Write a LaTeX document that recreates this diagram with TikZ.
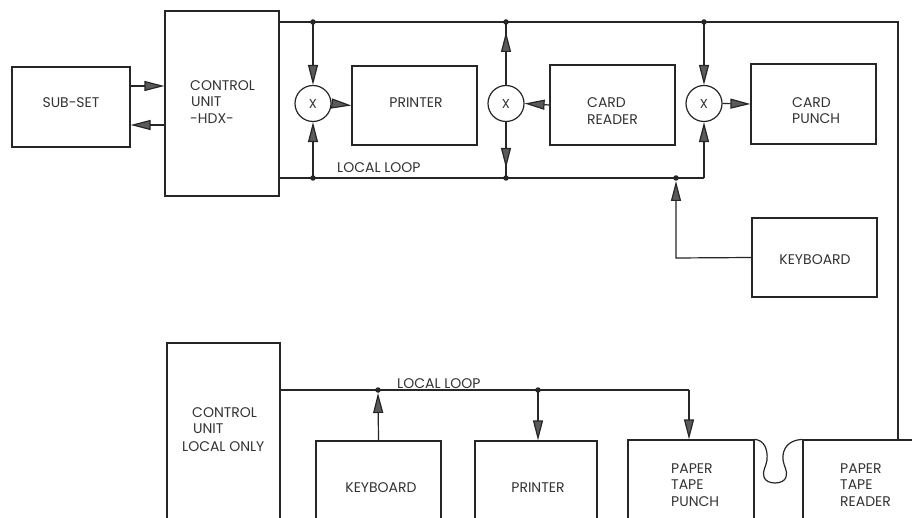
\documentclass[tikz,border=0pt]{standalone}
\usepackage{fontspec}
\setmainfont{Poppins}
\usetikzlibrary{arrows.meta,calc}
\definecolor{ink}{HTML}{262626}
\definecolor{headfill}{HTML}{5A5A5A}
\definecolor{txt}{HTML}{333333}
\tikzset{
  box/.style={draw=ink,line width=1.2pt,rectangle,inner sep=0pt},
  lbl/.style={text=txt,font=\fontsize{14}{17}\selectfont,inner sep=0pt},
  xcirc/.style={draw=ink,line width=1.2pt,circle,minimum size=36pt,inner sep=0pt,text=txt,font=\fontsize{13}{14}\selectfont},
  wire/.style={draw=ink,line width=1.2pt},
  arr/.style={wire,-{Triangle[length=20pt,width=10pt,fill=headfill]}},
  dot/.style={circle,fill=ink,inner sep=0pt,minimum size=5.5pt},
}
\begin{document}
\begin{tikzpicture}[x=1pt,y=-1pt]
\useasboundingbox (0,0) rectangle (912,518);
\clip (0,0) rectangle (912,518);
\fill[white] (0,0) rectangle (912,518);
% upper boxes
\node[box,minimum width=118pt,minimum height=80pt] (subset) at (71,107) {};
\node[lbl,anchor=base] (subsett) at (71,108) {SUB-SET};
\node[box,minimum width=114pt,minimum height=185pt] (cuh) at (222,103.5) {};
\node[lbl,anchor=base west] (cuht1) at (190,91) {CONTROL};
\node[lbl,anchor=base west] (cuht2) at (191,107) {UNIT};
\node[lbl,anchor=base west] (cuht3) at (190,124) {-HDX-};
\node[box,minimum width=125pt,minimum height=79pt] (printer) at (414.5,105.5) {};
\node[lbl,anchor=base] (printert) at (416,108) {PRINTER};
\node[box,minimum width=125pt,minimum height=80pt] (reader) at (612.5,105) {};
\node[lbl,anchor=base west] (readert1) at (587,108) {CARD};
\node[lbl,anchor=base west] (readert2) at (587,125) {READER};
\node[box,minimum width=125pt,minimum height=80pt] (punch) at (813.5,104) {};
\node[lbl,anchor=base west] (puncht1) at (792,108) {CARD};
\node[lbl,anchor=base west] (puncht2) at (792,124) {PUNCH};
\node[box,minimum width=125pt,minimum height=79pt] (kbd) at (814.5,257.5) {};
\node[lbl,anchor=base] (kbdt) at (815,265) {KEYBOARD};
% circles
\node[xcirc] (c1) at (313,103.5) {X};
\node[xcirc] (c2) at (506,103.5) {X};
\node[xcirc] (c3) at (704,103.5) {X};
% lower boxes
\node[box,minimum width=113pt,minimum height=240pt] (cul) at (223.5,463) {};
\node[lbl,anchor=base west] (cult1) at (192,417) {CONTROL};
\node[lbl,anchor=base west] (cult2) at (193,433) {UNIT};
\node[lbl,anchor=base west] (cult3) at (182,451) {LOCAL ONLY};
\node[box,minimum width=125pt,minimum height=140pt] (kbdl) at (378.5,511) {};
\node[lbl,anchor=base] (kbdlt) at (381,492) {KEYBOARD};
\node[box,minimum width=122pt,minimum height=140pt] (printerl) at (536,511) {};
\node[lbl,anchor=base] (printerlt) at (538,492) {PRINTER};
\node[box,minimum width=126pt,minimum height=140pt] (ptp) at (691,510) {};
\node[lbl,anchor=base west] (ptpt1) at (671,473) {PAPER};
\node[lbl,anchor=base west] (ptpt2) at (671,489) {TAPE};
\node[lbl,anchor=base west] (ptpt3) at (671,506) {PUNCH};
\node[box,minimum width=200pt,minimum height=140pt] (ptr) at (903,510) {};
\node[lbl,anchor=base west] (ptrt1) at (840,473) {PAPER};
\node[lbl,anchor=base west] (ptrt2) at (840,489) {TAPE};
\node[lbl,anchor=base west] (ptrt3) at (840,506) {READER};
% junction coordinates
\coordinate (j1t) at (313,22);
\coordinate (j2t) at (506,22);
\coordinate (j3t) at (704,22);
\coordinate (tr) at (898,22);
\coordinate (j1b) at (313,178);
\coordinate (j2b) at (506,178);
\coordinate (jk) at (676,178);
\coordinate (b3) at (704,178);
\coordinate (kb) at (676,258);
\coordinate (l1) at (378,390);
\coordinate (l2) at (538,390);
\coordinate (l3) at (689,390);
% main wires
\draw[wire] (cuh.east |- j1t) -- (tr) -- (tr |- ptr.north);
\draw[wire] (cuh.east |- j1b) -- (b3);
\draw[wire] (cul.east |- l1) -- (l3);
% sub-set arrows
\draw[arr] (subset.east |- 0,86) -- (cuh.west |- 0,86);
\draw[arr] (cuh.west |- 0,125) -- (subset.east |- 0,125);
% circle 1
\draw[arr] (j1t) -- (c1.north);
\draw[arr] (j1b) -- (c1.south);
\draw[arr] (c1.east) -- (printer.west);
% circle 2
\draw[wire] (c2.north) -- (j2t);
\draw[arr] (c2.north) -- ($(j2t)+(0,10)$);
\draw[wire] (c2.south) -- (j2b);
\draw[arr] (c2.south) -- ($(j2b)+(0,-10)$);
\draw[arr] (reader.west) -- (c2.east);
% circle 3
\draw[arr] (j3t) -- (c3.north);
\draw[arr] (b3) -- (c3.south);
\draw[arr] (c3.east) -- (punch.west);
% keyboard upper
\draw[arr] (kbd.west) -- (kb) -- ($(jk)+(0,3)$);
% lower loop
\draw[arr] (kbdl.north) -- ($(l1)+(0,3)$);
\draw[arr] (l2) -- (printerl.north -| l2);
\draw[arr] (l3) -- (ptp.north -| l3);
% tape loop
\draw[wire] (ptp.north east) .. controls (764,440) and (768,449) .. (767,460)
  .. controls (766,467) and (762,471) .. (764,477)
  .. controls (766,485) and (784,485) .. (786,477)
  .. controls (788,471) and (784,467) .. (783,460)
  .. controls (782,449) and (788,440) .. (ptr.north west);
% labels
\node[lbl,anchor=base west] (ll1) at (337,173) {LOCAL LOOP};
\node[lbl,anchor=base west] (ll2) at (397,388) {LOCAL LOOP};
% dots
\foreach \p in {j1t,j2t,j3t,j1b,j2b,jk,l1,l2} \node[dot] at (\p) {};
\end{tikzpicture}
\end{document}
